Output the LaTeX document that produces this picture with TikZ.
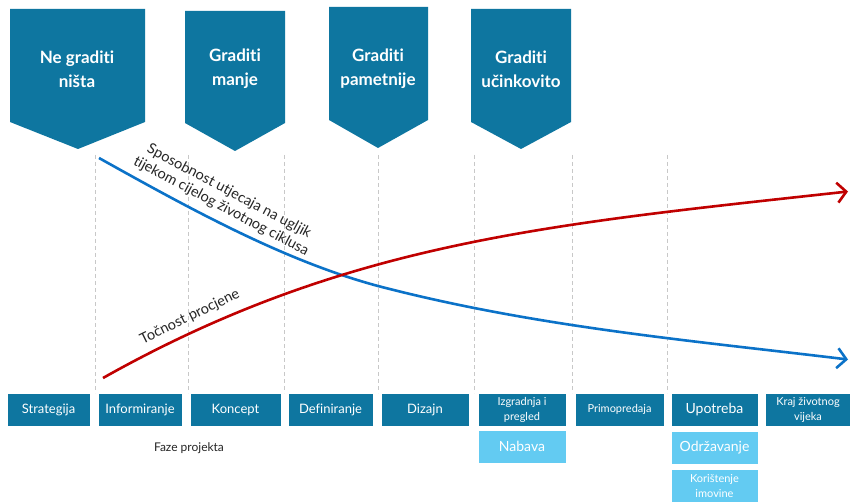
\documentclass[tikz,border=0pt]{standalone}
\usepackage{fontspec}
\setmainfont{Lato}[Ligatures={NoCommon,NoDiscretionary,NoRare}]
\usetikzlibrary{arrows.meta}
\definecolor{dblue}{HTML}{0E76A0}
\definecolor{lblue}{HTML}{63CBF2}
\definecolor{cred}{HTML}{C00000}
\definecolor{cblue}{HTML}{0B72C8}
\definecolor{txt}{HTML}{262626}
\definecolor{gridc}{HTML}{C8C8C8}
\begin{document}
\begin{tikzpicture}[x=1pt,y=-1pt,
  pent/.style={fill=dblue},
  penttext/.style={text=white, align=center, font=\fontsize{17}{24}\selectfont\bfseries, inner sep=0pt},
  phasebox/.style={fill=dblue, draw=white, line width=0.8pt, text=white, align=center, inner sep=1pt, minimum height=33pt, font=\fontsize{13}{15}\selectfont},
  subbox/.style={fill=lblue, draw=white, line width=0.8pt, text=white, align=center, inner sep=1pt, minimum height=33pt, font=\fontsize{14}{15}\selectfont},
  small/.style={font=\fontsize{11}{15}\selectfont},
  gridline/.style={draw=gridc, dashed, dash pattern=on 4pt off 3pt, line width=0.9pt},
  curve/.style={line width=2.6pt, -{Straight Barb[length=9pt,width=20pt]}},
  clabel/.style={text=txt, align=center, inner sep=0pt, font=\fontsize{14.5}{17}\selectfont}
]
\useasboundingbox (0,0) rectangle (850,502);
\fill[white] (0,0) rectangle (850,502);

% dashed grid lines
\foreach \gx in {95,188,284,378,474,572,667}{
  \draw[gridline] (\gx,155) -- (\gx,393);
}

% pentagons
\fill[pent] (10,9) -- (145,9) -- (145,122) -- (78,149) -- (10,122) -- cycle;
\fill[pent] (185,11) -- (285,11) -- (285,123) -- (235,151) -- (185,123) -- cycle;
\fill[pent] (329,7) -- (428,7) -- (428,120) -- (378,148) -- (329,120) -- cycle;
\fill[pent] (471,9) -- (571,9) -- (571,122) -- (521,149) -- (471,122) -- cycle;
\node[penttext] (t1) at (77,69) {Ne graditi\\ništa};
\node[penttext] (t2) at (235,69) {Graditi\\manje};
\node[penttext] (t3) at (378,69) {Graditi\\pametnije};
\node[penttext] (t4) at (521,69) {Graditi\\učinkovito};

% curve points
\coordinate (bs) at (99,158);
\coordinate (bm) at (378,286);
\coordinate (be) at (848,359.5);
\coordinate (rs) at (103,378);
\coordinate (re) at (848,191.5);

\draw[curve, cblue] (bs) .. controls (192,210) and (285,261) .. (bm)
                         .. controls (535,327) and (691,340.5) .. (be);
\draw[curve, cred] (rs) .. controls (345,242) and (548,224.5) .. (re);

\node[clabel, rotate=-28] (lb) at (225,199) {Sposobnost utjecaja na ugljik\\tijekom cijelog životnog ciklusa};
\node[clabel, rotate=26] (lr) at (190,317) {Točnost procjene};

% phase boxes
\node[phasebox, minimum width=83pt] (b1) at (48.5,409.5) {Strategija};
\node[phasebox, minimum width=84pt] (b2) at (140,409.5) {Informiranje};
\node[phasebox, minimum width=91pt] (b3) at (235.5,409.5) {Koncept};
\node[phasebox, minimum width=85pt] (b4) at (330.5,409.5) {Definiranje};
\node[phasebox, minimum width=88pt] (b5) at (425,409.5) {Dizajn};
\node[phasebox, small, minimum width=88pt] (b6) at (522,409.5) {Izgradnja i\\pregled};
\node[phasebox, small, minimum width=89pt] (b7) at (619.5,409.5) {Primopredaja};
\node[phasebox, font=\fontsize{14}{15}\selectfont, minimum width=87pt] (b8) at (714.5,409.5) {Upotreba};
\node[phasebox, small, minimum width=86pt] (b9) at (808,409.5) {Kraj životnog\\vijeka};

\node[subbox, minimum width=88pt] (s1) at (522,446.5) {Nabava};
\node[subbox, minimum width=87pt] (s2) at (714.5,448) {Održavanje};
\node[subbox, small, minimum width=87pt, minimum height=35pt] (s3) at (714.5,486.5) {Korištenje\\imovine};

\node[text=txt, font=\fontsize{12}{15}\selectfont] (faze) at (189,448) {Faze projekta};
\end{tikzpicture}
\end{document}
